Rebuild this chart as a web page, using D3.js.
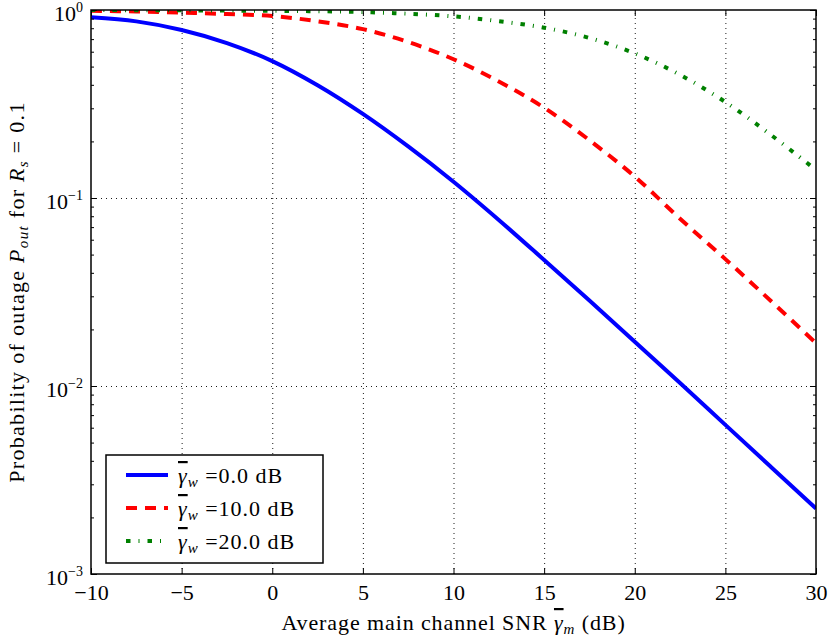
<!DOCTYPE html>
<html>
<head>
<meta charset="utf-8">
<title>outage probability vs main channel SNR</title>
<style>
  body { margin: 0; background: #fff; }
  text { font-family: "Liberation Serif", "DejaVu Serif", serif; fill: #000; }
  .grid line { stroke: #000; stroke-width: 0.9; stroke-dasharray: 1,4; }
  .grid path { display: none; }
  .ticks path { display: none; }
  .ticks line { stroke: #000; stroke-width: 1; }
</style>
</head>
<body>
<script src="https://cdn.jsdelivr.net/npm/d3@7"></script>
<script>
// data
var snr = [-10, -7.5, -5, -2.5, 0, 2.5, 5, 7.5, 10, 12.5, 15, 17.5, 20, 22.5, 25, 27.5, 30];
var pout0 = [0.914, 0.87, 0.783, 0.667, 0.535, 0.398, 0.28, 0.188, 0.122, 0.0764, 0.0468, 0.0285, 0.0172, 0.01038, 0.00621, 0.00372, 0.00223];
var pout10 = [0.99, 0.982, 0.968, 0.952, 0.929, 0.871, 0.791, 0.676, 0.547, 0.417, 0.302, 0.203, 0.13, 0.0776, 0.0473, 0.0284, 0.0169];
var pout20 = [0.999, 0.998, 0.996, 0.993, 0.99, 0.985, 0.975, 0.955, 0.925, 0.872, 0.805, 0.71, 0.588, 0.452, 0.324, 0.217, 0.141];
var legendLabels = ["=0.0 dB", "=10.0 dB", "=20.0 dB"];
var xTicks = [-10, -5, 0, 5, 10, 15, 20, 25, 30];
var yExponents = [0, -1, -2, -3];

var margin = {top: 10, right: 12, bottom: 65, left: 91},
    width = 828 - margin.left - margin.right,
    height = 639 - margin.top - margin.bottom;

var svg = d3.select('body').append('svg')
    .attr('width', 828).attr('height', 639)
  .append('g')
    .attr('transform', 'translate(' + margin.left + ',' + margin.top + ')');

var x = d3.scaleLinear().domain([-10, 30]).range([0, width]);
var y = d3.scaleLog().domain([1e-3, 1]).range([height, 0]);

var majorY = yExponents.map(function(e) { return Math.pow(10, e); });
var minorY = [];
[-3, -2, -1].forEach(function(e) {
  for (var k = 2; k <= 9; k++) minorY.push(k * Math.pow(10, e));
});

// grid
svg.append('g').attr('class', 'grid')
  .attr('transform', 'translate(0,' + height + ')')
  .call(d3.axisBottom(x).tickValues(xTicks.slice(1, -1)).tickSize(-height).tickFormat(''));
svg.append('g').attr('class', 'grid')
  .call(d3.axisLeft(y).tickValues(majorY.slice(1, -1)).tickSize(-width).tickFormat(''));

// curves
var series = [
  {vals: pout0, color: '#0000ff', dash: null},
  {vals: pout10, color: '#ff0000', dash: '11,8'},
  {vals: pout20, color: '#008000', dash: '4.5,8,1,8'}
];
var line = d3.line()
  .x(function(d) { return x(d[0]); })
  .y(function(d) { return y(d[1]); })
  .curve(d3.curveCatmullRom.alpha(0.5));

svg.append('clipPath').attr('id', 'clip')
  .append('rect').attr('width', width).attr('height', height);

series.forEach(function(s) {
  svg.append('path')
    .datum(snr.map(function(v, i) { return [v, s.vals[i]]; }))
    .attr('clip-path', 'url(#clip)')
    .attr('fill', 'none')
    .attr('stroke', s.color)
    .attr('stroke-width', 4)
    .attr('stroke-dasharray', s.dash)
    .attr('d', line);
});

// ticks, all four sides, pointing in
svg.append('g').attr('class', 'ticks')
  .attr('transform', 'translate(0,' + height + ')')
  .call(d3.axisBottom(x).tickValues(xTicks).tickSize(-6).tickPadding(10))
  .selectAll('text').style('font-size', '22px');
svg.append('g').attr('class', 'ticks')
  .call(d3.axisTop(x).tickValues(xTicks).tickSize(-6).tickFormat(''));
svg.append('g').attr('class', 'ticks')
  .call(d3.axisLeft(y).tickValues(majorY).tickSize(-6).tickFormat(''));
svg.append('g').attr('class', 'ticks')
  .call(d3.axisLeft(y).tickValues(minorY).tickSize(-3).tickFormat(''));
svg.append('g').attr('class', 'ticks')
  .attr('transform', 'translate(' + width + ',0)')
  .call(d3.axisRight(y).tickValues(majorY).tickSize(-6).tickFormat(''));
svg.append('g').attr('class', 'ticks')
  .attr('transform', 'translate(' + width + ',0)')
  .call(d3.axisRight(y).tickValues(minorY).tickSize(-3).tickFormat(''));

// y tick labels 10^e
yExponents.forEach(function(e) {
  var t = svg.append('text')
    .attr('x', -8)
    .attr('y', y(Math.pow(10, e)) + 11)
    .attr('text-anchor', 'end')
    .style('font-size', '22px');
  t.append('tspan').text('10');
  t.append('tspan').attr('dy', -9).style('font-size', '14px')
    .text(e === 0 ? '0' : '\u2212' + (-e));
});

// frame
svg.append('rect')
  .attr('width', width).attr('height', height)
  .attr('fill', 'none').attr('stroke', '#000').attr('stroke-width', 1.5);

// x label
var xl = svg.append('text')
  .attr('x', width / 2).attr('y', height + 56)
  .attr('text-anchor', 'middle')
  .style('font-size', '22px')
  .style('letter-spacing', '0.9px');
xl.append('tspan').text('Average main channel SNR ');
xl.append('tspan').style('font-style', 'italic').style('text-decoration', 'overline').text('\u03b3');
xl.append('tspan').attr('dy', 4).style('font-style', 'italic').style('font-size', '15px').text('m');
xl.append('tspan').attr('dy', -4).text(' (dB)');

// y label
var yl = svg.append('text')
  .attr('transform', 'translate(' + (-67) + ',' + (height / 2) + ') rotate(-90)')
  .attr('text-anchor', 'middle')
  .style('font-size', '22px')
  .style('letter-spacing', '1.3px');
yl.append('tspan').text('Probability of outage ');
yl.append('tspan').style('font-style', 'italic').text('P');
yl.append('tspan').attr('dy', 4).style('font-style', 'italic').style('font-size', '15px').text('out');
yl.append('tspan').attr('dy', -4).text(' for ');
yl.append('tspan').style('font-style', 'italic').text('R');
yl.append('tspan').attr('dy', 4).style('font-style', 'italic').style('font-size', '15px').text('s');
yl.append('tspan').attr('dy', -4).text(' = 0.1');

// legend
var lg = svg.append('g').attr('transform', 'translate(15,445)');
lg.append('rect')
  .attr('width', 217).attr('height', 108)
  .attr('fill', '#fff').attr('stroke', '#000').attr('stroke-width', 1.5);
series.forEach(function(s, i) {
  var yy = 20 + i * 33;
  lg.append('line')
    .attr('x1', 20).attr('x2', 62).attr('y1', yy).attr('y2', yy)
    .attr('stroke', s.color).attr('stroke-width', 4)
    .attr('stroke-dasharray', s.dash);
  var t = lg.append('text')
    .attr('x', 72).attr('y', yy + 8)
    .style('font-size', '22px')
    .style('letter-spacing', '1px');
  t.append('tspan').style('font-style', 'italic').style('text-decoration', 'overline').text('\u03b3');
  t.append('tspan').attr('dy', 4).style('font-style', 'italic').style('font-size', '15px').text('w');
  t.append('tspan').attr('dy', -4).text(' ' + legendLabels[i]);
});
</script>
</body>
</html>
